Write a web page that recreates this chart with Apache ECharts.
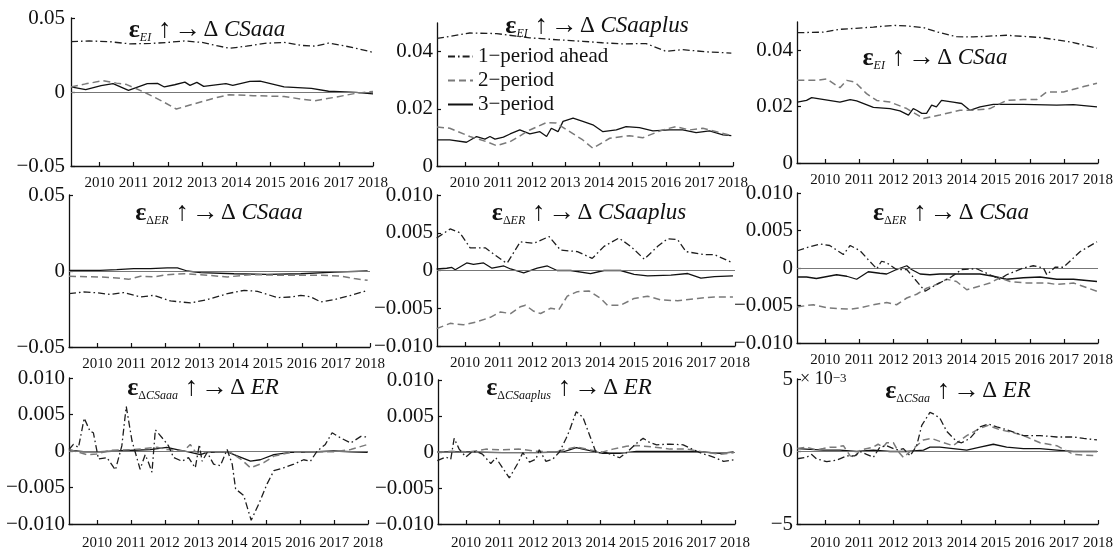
<!DOCTYPE html>
<html><head><meta charset="utf-8">
<script src="https://cdn.jsdelivr.net/npm/echarts@6/dist/echarts.min.js"></script>
<style>html,body{margin:0;padding:0;background:#fff}#c{width:1116px;height:551px}</style>
</head><body><div id="c"></div>
<script>
// ---------------- DATA ----------------
const seriesNames = ['1−period ahead', '2−period', '3−period'];
const yearTicks = [2010, 2011, 2012, 2013, 2014, 2015, 2016, 2017, 2018];
const xRange = [2009.17, 2018];

// Panel 1: eps_EI -> dCSaaa
const p1Ahead = [[2009.17,0.034],[2009.7,0.0345],[2010.3,0.034],[2010.9,0.0325],[2011.5,0.0328],[2012.0,0.0335],[2012.5,0.0345],[2013.0,0.0335],[2013.5,0.031],[2013.8,0.0295],[2014.3,0.031],[2014.9,0.033],[2015.4,0.0335],[2015.9,0.0315],[2016.3,0.031],[2016.7,0.033],[2017.2,0.031],[2017.7,0.0285],[2018.0,0.0268]];
const p1Two = [[2009.17,0.0034],[2009.6,0.0055],[2010.1,0.0076],[2010.5,0.006],[2010.8,0.005],[2011.3,0.0],[2011.8,-0.0058],[2012.25,-0.0115],[2012.8,-0.0078],[2013.3,-0.0045],[2013.8,-0.0018],[2014.5,-0.0025],[2015.4,-0.003],[2015.9,-0.0048],[2016.3,-0.0059],[2016.9,-0.0035],[2017.45,-0.0011],[2018,0.0004]];
const p1Three = [[2009.17,0.0034],[2009.6,0.0016],[2010.05,0.0043],[2010.4,0.0056],[2010.85,0.0011],[2011.4,0.0056],[2011.7,0.0058],[2011.9,0.0034],[2012.2,0.0049],[2012.5,0.0067],[2012.65,0.0045],[2012.85,0.0065],[2013.05,0.0038],[2013.7,0.0056],[2013.9,0.0045],[2014.4,0.0072],[2014.7,0.0074],[2015.4,0.0034],[2016.2,0.0025],[2016.7,0.0005],[2017.5,-0.0002],[2018,-0.0013]];

// Panel 2: eps_EI -> dCSaaplus
const p2Ahead = [[2009.17,0.0446],[2010.15,0.0465],[2010.95,0.0463],[2011.94,0.0448],[2012.8,0.0441],[2013.52,0.0436],[2014.1,0.0431],[2014.71,0.0427],[2015.41,0.0428],[2016.0,0.0401],[2016.5,0.0407],[2017.2,0.0399],[2017.95,0.0395]];
const p2Two = [[2009.17,0.0136],[2009.55,0.0132],[2010.15,0.0103],[2010.65,0.0085],[2010.95,0.0071],[2011.35,0.0085],[2011.94,0.0126],[2012.44,0.0152],[2012.73,0.015],[2013.13,0.012],[2013.52,0.0091],[2013.82,0.0062],[2014.32,0.0097],[2014.91,0.0106],[2015.31,0.0099],[2015.9,0.0126],[2016.3,0.0138],[2016.7,0.0126],[2017.1,0.0132],[2017.6,0.0117],[2017.95,0.0106]];
const p2Three = [[2009.17,0.0091],[2009.55,0.0091],[2010.05,0.0083],[2010.35,0.0103],[2010.6,0.0094],[2010.75,0.0103],[2010.9,0.0094],[2011.15,0.0101],[2011.35,0.0112],[2011.64,0.0126],[2011.94,0.0112],[2012.24,0.012],[2012.44,0.0103],[2012.58,0.0132],[2012.78,0.012],[2012.93,0.0156],[2013.23,0.0167],[2013.52,0.0156],[2013.82,0.0144],[2014.12,0.012],[2014.52,0.0126],[2014.81,0.0138],[2015.21,0.0134],[2015.61,0.0123],[2016.1,0.0126],[2016.5,0.0126],[2016.9,0.0117],[2017.3,0.0123],[2017.7,0.0109],[2017.95,0.0106]];

// Panel 3: eps_EI -> dCSaa
const p3Ahead = [[2009.18,0.0462],[2009.94,0.0464],[2010.43,0.0474],[2011.41,0.0482],[2012.0,0.0488],[2012.39,0.0486],[2012.88,0.048],[2013.36,0.0462],[2013.85,0.0448],[2014.34,0.0447],[2015.32,0.0453],[2016.3,0.0445],[2016.89,0.0435],[2017.28,0.0427],[2017.97,0.0407]];
const p3Two = [[2009.18,0.0293],[2009.74,0.0293],[2010.04,0.0298],[2010.43,0.0267],[2010.63,0.0293],[2010.87,0.0287],[2011.21,0.0246],[2011.51,0.0222],[2011.9,0.0216],[2012.39,0.0193],[2012.88,0.0158],[2013.36,0.017],[2013.95,0.0187],[2014.34,0.0187],[2014.83,0.0193],[2015.32,0.0222],[2015.81,0.0225],[2016.2,0.0225],[2016.5,0.0252],[2016.99,0.0252],[2017.58,0.0271],[2017.97,0.0283]];
const p3Three = [[2009.18,0.0216],[2009.45,0.0222],[2009.6,0.0232],[2010.43,0.0216],[2010.73,0.0225],[2010.92,0.022],[2011.41,0.0197],[2011.9,0.0193],[2012.19,0.0185],[2012.44,0.017],[2012.58,0.0193],[2012.68,0.0187],[2012.83,0.0176],[2012.97,0.0176],[2013.12,0.0205],[2013.26,0.0199],[2013.41,0.0222],[2013.75,0.0216],[2014.0,0.0211],[2014.24,0.0187],[2014.54,0.0199],[2014.93,0.0208],[2015.81,0.0208],[2016.79,0.0205],[2017.28,0.0207],[2017.97,0.0199]];

// Panel 4: eps_dER -> dCSaaa
const p4Ahead = [[2009.17,-0.0149],[2009.6,-0.0138],[2010.08,-0.0145],[2010.38,-0.0155],[2010.77,-0.0142],[2011.27,-0.0171],[2011.66,-0.016],[2012.15,-0.0197],[2012.74,-0.021],[2013.23,-0.0188],[2013.82,-0.0149],[2014.31,-0.0127],[2014.7,-0.0134],[2015.29,-0.0175],[2015.68,-0.0171],[2015.97,-0.016],[2016.27,-0.0171],[2016.56,-0.0204],[2016.95,-0.0188],[2017.45,-0.016],[2017.93,-0.0127]];
const p4Two = [[2009.17,-0.0035],[2010.08,-0.0039],[2010.57,-0.0046],[2010.92,-0.0055],[2011.27,-0.0035],[2011.66,-0.0039],[2012.05,-0.0024],[2012.54,-0.0018],[2013.03,-0.0024],[2013.82,-0.0039],[2014.5,-0.0024],[2015.48,-0.0028],[2016.46,-0.0028],[2017.15,-0.0033],[2017.54,-0.005],[2017.93,-0.0061]];
const p4Three = [[2009.17,0.0004],[2010.08,0.0004],[2010.57,0.0009],[2011.07,0.0015],[2011.56,0.0015],[2012.05,0.002],[2012.35,0.002],[2012.64,0.0],[2013.03,-0.0011],[2014.01,-0.0018],[2014.99,-0.0022],[2015.97,-0.0018],[2016.95,-0.0007],[2017.93,0.0]];

// Panel 5: eps_dER -> dCSaaplus
const p5Ahead = [[2009.16,0.0043],[2009.56,0.0055],[2009.85,0.005],[2010.15,0.003],[2010.6,0.003],[2011.15,0.0012],[2011.25,0.001],[2011.64,0.0038],[2012.04,0.0036],[2012.49,0.0045],[2012.83,0.0027],[2013.33,0.0025],[2013.77,0.0016],[2014.12,0.0032],[2014.56,0.0043],[2014.91,0.0032],[2015.31,0.0015],[2015.71,0.0032],[2016.0,0.0042],[2016.3,0.0041],[2016.55,0.0025],[2017.09,0.0021],[2017.39,0.0021],[2017.94,0.001]];
const p5Two = [[2009.16,-0.0077],[2009.56,-0.007],[2009.95,-0.0072],[2010.35,-0.0068],[2010.75,-0.0062],[2011.05,-0.0055],[2011.35,-0.0057],[2011.64,-0.0048],[2011.79,-0.0046],[2012.04,-0.0054],[2012.24,-0.0057],[2012.54,-0.005],[2012.78,-0.0052],[2013.03,-0.0034],[2013.33,-0.0028],[2013.67,-0.0027],[2014.02,-0.0037],[2014.22,-0.0046],[2014.61,-0.0046],[2015.01,-0.0037],[2015.41,-0.0034],[2015.8,-0.0039],[2016.3,-0.004],[2016.89,-0.0037],[2017.39,-0.0035],[2017.94,-0.0035]];
const p5Three = [[2009.16,0.0002],[2009.46,0.0003],[2009.61,0.0004],[2009.71,0.0001],[2010.05,0.001],[2010.25,0.0008],[2010.55,0.001],[2010.8,0.0003],[2011.15,0.0006],[2011.35,0.0002],[2011.74,-0.0003],[2012.14,0.0003],[2012.44,0.0006],[2012.73,0.0],[2013.13,0.0],[2013.72,-0.0004],[2014.12,0.0],[2014.61,0.0],[2015.01,-0.0005],[2015.41,-0.0007],[2016.1,-0.0006],[2016.6,-0.0004],[2016.99,-0.001],[2017.39,-0.0008],[2017.94,-0.0007]];

// Panel 6: eps_dER -> dCSaa
const p6Ahead = [[2009.18,0.0023],[2009.45,0.0027],[2009.84,0.0032],[2010.13,0.003],[2010.53,0.0018],[2010.73,0.003],[2011.02,0.0023],[2011.26,0.0011],[2011.51,-0.0001],[2011.65,0.0009],[2011.8,0.0007],[2012.09,-0.0002],[2012.39,-0.0002],[2012.63,-0.0015],[2012.93,-0.0031],[2013.26,-0.0022],[2013.66,-0.0013],[2014.0,-0.0002],[2014.44,-0.0001],[2014.83,-0.0009],[2015.12,-0.0015],[2015.32,-0.0009],[2015.81,0.0],[2016.1,0.0003],[2016.4,0.0],[2016.5,-0.0009],[2016.74,0.0001],[2016.99,0.0001],[2017.48,0.0022],[2017.97,0.0035]];
const p6Two = [[2009.18,-0.0052],[2009.45,-0.005],[2009.65,-0.0049],[2010.04,-0.0053],[2010.73,-0.0055],[2011.02,-0.0053],[2011.41,-0.0049],[2011.8,-0.0046],[2012.09,-0.0049],[2012.39,-0.004],[2012.68,-0.0035],[2012.97,-0.0027],[2013.26,-0.0022],[2013.56,-0.0015],[2013.85,-0.0018],[2014.15,-0.0029],[2014.54,-0.0024],[2014.83,-0.002],[2015.12,-0.0013],[2015.42,-0.0018],[2015.91,-0.002],[2016.5,-0.002],[2016.79,-0.0022],[2017.28,-0.002],[2017.97,-0.0031]];
const p6Three = [[2009.18,-0.0012],[2009.45,-0.0012],[2009.74,-0.0014],[2010.33,-0.0009],[2010.63,-0.0011],[2010.92,-0.0015],[2011.26,-0.0005],[2011.6,-0.0007],[2011.8,-0.0008],[2012.09,-0.0002],[2012.39,0.0003],[2012.53,-0.0002],[2012.78,-0.0008],[2013.07,-0.0009],[2013.36,-0.0008],[2013.95,-0.0008],[2014.54,-0.0008],[2014.93,-0.0011],[2015.32,-0.0015],[2015.81,-0.0013],[2016.3,-0.0012],[2016.79,-0.0015],[2017.28,-0.0015],[2017.97,-0.0018]];

// Panel 7: eps_dCSaaa -> dER
const p7Ahead = [[2009.17,0.0002],[2009.3,0.0009],[2009.45,0.0005],[2009.62,0.0045],[2009.79,0.0027],[2009.89,0.0025],[2010.04,-0.0011],[2010.29,-0.0009],[2010.54,-0.0026],[2010.73,0.0007],[2010.86,0.0061],[2011.03,0.0014],[2011.27,-0.0025],[2011.42,-0.0005],[2011.52,-0.0016],[2011.62,-0.0029],[2011.72,0.0029],[2011.96,0.0016],[2012.11,0.0007],[2012.26,-0.0009],[2012.51,-0.0014],[2012.7,-0.0009],[2012.9,-0.0023],[2013.02,0.0009],[2013.1,-0.0014],[2013.25,-0.0002],[2013.44,-0.0018],[2013.64,-0.002],[2013.84,0.0002],[2013.99,-0.0018],[2014.09,-0.0052],[2014.33,-0.0061],[2014.55,-0.0095],[2014.78,-0.0072],[2015.02,-0.0045],[2015.22,-0.0027],[2015.51,-0.0023],[2015.81,-0.0018],[2016.1,-0.0012],[2016.3,-0.0014],[2016.5,0.0],[2016.74,0.0009],[2016.94,0.0025],[2017.19,0.0018],[2017.49,0.0011],[2017.79,0.002],[2017.99,0.0019]];
const p7Two = [[2009.17,0.0002],[2009.4,-0.0001],[2009.69,-0.0005],[2009.99,-0.0004],[2010.39,0.0001],[2011.08,0.0002],[2011.77,0.0005],[2012.06,0.0002],[2012.56,0.0],[2012.75,0.0009],[2012.9,-0.0001],[2013.25,-0.0002],[2013.54,-0.0001],[2013.94,-0.0002],[2014.24,-0.0011],[2014.53,-0.0023],[2014.92,-0.0016],[2015.22,-0.0007],[2015.71,-0.0002],[2016.5,-0.0001],[2016.99,-0.0001],[2017.49,0.0002],[2017.99,0.0009]];
const p7Three = [[2009.17,0.0001],[2009.6,-0.0001],[2010.09,-0.0001],[2010.59,0.0],[2011.08,0.0001],[2011.57,0.0002],[2012.06,0.0005],[2012.36,0.0002],[2012.66,-0.0001],[2013.05,-0.0005],[2013.25,-0.0002],[2013.84,-0.0001],[2014.04,-0.0005],[2014.53,-0.0014],[2014.82,-0.0012],[2015.22,-0.0005],[2015.71,-0.0002],[2016.5,-0.0001],[2016.99,0.0],[2017.49,-0.0001],[2017.99,-0.0002]];

// Panel 8: eps_dCSaaplus -> dER
const p8Ahead = [[2009.15,-0.0012],[2009.4,-0.0007],[2009.55,-0.001],[2009.65,0.0019],[2009.8,0.0004],[2010.0,-0.0007],[2010.2,0.0001],[2010.39,-0.0001],[2010.49,-0.0003],[2010.74,-0.0016],[2010.89,-0.0008],[2011.29,-0.0036],[2011.54,-0.0016],[2011.69,-0.0001],[2011.89,-0.0014],[2012.08,-0.001],[2012.18,0.0003],[2012.38,-0.0013],[2012.58,-0.001],[2012.78,0.0],[2012.98,0.0019],[2013.08,0.003],[2013.28,0.0056],[2013.48,0.0048],[2013.68,0.0023],[2013.87,-0.0001],[2014.17,-0.0001],[2014.37,-0.0004],[2014.57,-0.0008],[2014.77,-0.0001],[2015.07,0.0012],[2015.27,0.0019],[2015.47,0.0013],[2015.67,0.001],[2016.06,0.0011],[2016.46,0.001],[2016.96,-0.0001],[2017.36,-0.0007],[2017.66,-0.0013],[2017.96,-0.0011]];
const p8Two = [[2009.15,0.0],[2009.6,0.0001],[2010.1,0.0],[2010.59,0.0004],[2011.09,0.0003],[2011.59,0.0004],[2012.08,0.0001],[2012.68,0.0],[2012.98,0.0004],[2013.28,0.0007],[2013.68,0.0003],[2014.07,0.0],[2014.37,0.0004],[2014.77,0.0008],[2015.07,0.0009],[2015.57,0.0007],[2016.06,0.0004],[2016.56,0.0004],[2017.06,0.0],[2017.56,-0.0003],[2017.96,-0.0001]];
const p8Three = [[2009.15,0.0],[2010.1,0.0],[2011.09,-0.0001],[2012.08,-0.0001],[2012.88,0.0],[2013.08,0.0003],[2013.28,0.0006],[2013.58,0.0003],[2014.07,-0.0002],[2014.57,-0.0002],[2015.07,0.0001],[2015.57,0.0001],[2016.06,0.0001],[2016.56,0.0001],[2017.06,0.0],[2017.56,-0.0002],[2017.96,0.0]];

// Panel 9: eps_dCSaa -> dER
const p9Ahead = [[2009.18,-0.0005],[2009.45,-0.0004],[2009.6,-0.0002],[2009.74,-0.0005],[2010.04,-0.0007],[2010.33,-0.0006],[2010.63,-0.0003],[2010.87,-0.0003],[2011.02,0.0],[2011.21,-0.0002],[2011.41,-0.0004],[2011.6,0.0003],[2011.8,0.0004],[2012.0,0.0002],[2012.14,0.0001],[2012.29,0.0002],[2012.49,-0.0003],[2012.68,0.0004],[2012.83,0.0018],[2013.07,0.0027],[2013.17,0.0026],[2013.36,0.0023],[2013.56,0.0014],[2013.85,0.0007],[2014.0,0.0006],[2014.24,0.0009],[2014.54,0.0017],[2014.78,0.0019],[2015.03,0.0017],[2015.32,0.0015],[2015.81,0.0011],[2016.3,0.0011],[2016.79,0.001],[2017.28,0.001],[2017.58,0.0009],[2017.97,0.0008]];
const p9Two = [[2009.18,0.0002],[2009.45,0.0003],[2009.74,0.0001],[2009.94,0.0002],[2010.13,0.0003],[2010.33,0.0003],[2010.53,0.0004],[2010.73,-0.0003],[2010.87,-0.0004],[2011.02,0.0001],[2011.41,0.0003],[2011.55,0.0005],[2011.7,0.0003],[2011.8,0.0006],[2012.0,0.0006],[2012.14,0.0],[2012.29,-0.0004],[2012.49,0.0],[2012.68,0.0004],[2012.88,0.0008],[2013.12,0.0009],[2013.36,0.0007],[2013.75,0.0004],[2014.15,0.0011],[2014.54,0.0016],[2014.78,0.0018],[2015.12,0.0015],[2015.52,0.0013],[2015.81,0.0011],[2016.3,0.0006],[2016.79,0.0004],[2017.28,-0.0002],[2017.97,-0.0003]];
const p9Three = [[2009.18,0.0002],[2009.94,0.0001],[2010.43,0.0001],[2010.92,0.0],[2011.41,0.0001],[2011.9,0.0],[2012.39,0.0],[2012.88,0.0001],[2013.07,0.0003],[2013.36,0.0003],[2013.75,0.0002],[2014.15,0.0001],[2014.54,0.0003],[2014.93,0.0005],[2015.32,0.0003],[2015.81,0.0002],[2016.3,0.0002],[2016.79,0.0001],[2017.28,0.0],[2017.97,0.0]];

// y-axis ranges, ticks and tick labels
const yRanges = [[-0.05,0.05],[0,0.05],[0,0.05],[-0.05,0.05],[-0.01,0.01],[-0.01,0.01],[-0.01,0.01],[-0.01,0.01],[-0.005,0.005]];
const yTicks = [[-0.05,0,0.05],[0,0.02,0.04],[0,0.02,0.04],[-0.05,0,0.05],[-0.01,-0.005,0,0.005,0.01],[-0.01,-0.005,0,0.005,0.01],[-0.01,-0.005,0,0.005,0.01],[-0.01,-0.005,0,0.005,0.01],[-0.005,0,0.005]];
const yTickLabels = [['−0.05','0','0.05'],['0','0.02','0.04'],['0','0.02','0.04'],['−0.05','0','0.05'],['−0.010','−0.005','0','0.005','0.010'],['−0.010','−0.005','0','0.005','0.010'],['−0.010','−0.005','0','0.005','0.010'],['−0.010','−0.005','0','0.005','0.010'],['−5','0','5']];

// panel titles: shock subscript and response variable
const titleShock = ['EI','EI','EI','ΔER','ΔER','ΔER','ΔCSaaa','ΔCSaaplus','ΔCSaa'];
const titleResponse = ['CSaaa','CSaaplus','CSaa','CSaaa','CSaaplus','CSaa','ER','ER','ER'];

const panelData = [
  [p1Ahead,p1Two,p1Three],[p2Ahead,p2Two,p2Three],[p3Ahead,p3Two,p3Three],
  [p4Ahead,p4Two,p4Three],[p5Ahead,p5Two,p5Three],[p6Ahead,p6Two,p6Three],
  [p7Ahead,p7Two,p7Three],[p8Ahead,p8Two,p8Three],[p9Ahead,p9Two,p9Three]
];

// ---------------- LAYOUT / STYLE ----------------
const FONT = '"Liberation Serif", "DejaVu Serif", serif';
const grids = [
  {left:71, top:18, width:302, height:148},
  {left:437, top:23, width:296, height:143},
  {left:797, top:22, width:301, height:141},
  {left:69, top:195, width:301, height:152},
  {left:437, top:195, width:298, height:151},
  {left:797, top:193, width:301, height:150},
  {left:69, top:378, width:299, height:151},
  {left:438, top:380, width:297, height:149},
  {left:797, top:379, width:301, height:152}
];
const xLabelMargin = [10,10,10,10,10,10,12,12,12];
const titlePos = [[207,30],[597,26],[935,58],[219,213],[589,213],[951,213],[203,388],[569,388],[958,391]];
const zeroLine = [true,false,false,true,true,true,true,true,true];
const lineStyles = [
  {color:'#1e1e1e', width:1.3, type:[7,3,1.6,3]},
  {color:'#7a7a7a', width:1.5, type:[7,4]},
  {color:'#111111', width:1.3, type:'solid'}
];

const xAxes = [], yAxes = [], series = [], graphics = [];
grids.forEach((g, i) => {
  xAxes.push({
    type:'value', gridIndex:i, min:xRange[0], max:xRange[1],
    axisLine:{show:true, onZero:false, lineStyle:{color:'#111', width:1.3}},
    axisTick:{show:true, inside:true, length:4, customValues:yearTicks, lineStyle:{color:'#111', width:1.2}},
    axisLabel:{customValues:yearTicks, formatter:v => String(Math.round(v)), fontFamily:FONT, fontSize:15, color:'#111', margin:xLabelMargin[i]},
    splitLine:{show:false}
  });
  const ticks = yTicks[i], labels = yTickLabels[i];
  yAxes.push({
    type:'value', gridIndex:i, min:yRanges[i][0], max:yRanges[i][1],
    axisLine:{show:true, onZero:false, lineStyle:{color:'#111', width:1.3}},
    axisTick:{show:true, inside:true, length:4, customValues:ticks, lineStyle:{color:'#111', width:1.2}},
    axisLabel:{customValues:ticks, formatter:v => { const k = ticks.findIndex(t => Math.abs(t - v) < 1e-9); return k >= 0 ? labels[k] : ''; },
      fontFamily:FONT, fontSize:21, color:'#111', margin: i === 0 ? 6 : 4},
    splitLine:{show:false},
    name: i === 8 ? '× 10{sup|−3}' : '',
    nameLocation:'end', nameGap:-7,
    nameTextStyle:{fontFamily:FONT, fontSize:18, lineHeight:14, color:'#111', align:'left', verticalAlign:'bottom', padding:[0,0,0,3],
      rich:{sup:{fontFamily:FONT, fontSize:13, lineHeight:14, color:'#111', verticalAlign:'top'}}}
  });
  panelData[i].forEach((d, k) => {
    const s = {
      type:'line', name:seriesNames[k], xAxisIndex:i, yAxisIndex:i, data:d,
      showSymbol:false, symbol:'none', smooth:false, lineStyle:lineStyles[k], z: 5 - k
    };
    if (k === 0 && zeroLine[i]) {
      s.markLine = {silent:true, symbol:'none', label:{show:false}, animation:false,
        lineStyle:{color:'#777', width:1, type:'solid'}, data:[{yAxis:0}]};
    }
    series.push(s);
  });
  const shock = titleShock[i];
  const shockText = shock.startsWith('Δ') ? '{sd|Δ}{s|' + shock.slice(1) + '}' : '{s|' + shock + '}';
  graphics.push({
    type:'text', x:titlePos[i][0], y:titlePos[i][1], silent:true,
    style:{
      text:'{e|ε}' + shockText + '{a| ↑}{sp| }{a|→}{sp| }{d|Δ}{t| ' + titleResponse[i] + '}',
      align:'center', verticalAlign:'middle', fill:'#111', fontFamily:FONT,
      rich:{
        e:{fontFamily:FONT, fontSize:26, fontWeight:'bold', fill:'#111', lineHeight:28, verticalAlign:'middle'},
        s:{fontFamily:FONT, fontSize:12, fontStyle:'italic', fill:'#111', lineHeight:17, verticalAlign:'bottom'},
        sd:{fontFamily:FONT, fontSize:12, fill:'#111', lineHeight:17, verticalAlign:'bottom'},
        sp:{fontFamily:FONT, fontSize:10, fill:'#111', lineHeight:28, verticalAlign:'middle'},
        a:{fontFamily:FONT, fontSize:27, fill:'#111', lineHeight:28, verticalAlign:'middle'},
        d:{fontFamily:FONT, fontSize:23, fill:'#111', lineHeight:28, verticalAlign:'middle'},
        t:{fontFamily:FONT, fontSize:23, fontStyle:'italic', fill:'#111', lineHeight:28, verticalAlign:'middle'}
      }
    }
  });
});

const chart = echarts.init(document.getElementById('c'), null, {renderer:'canvas'});
chart.setOption({
  backgroundColor:'#ffffff',
  animation:false,
  grid:grids.map(g => Object.assign({containLabel:false}, g)),
  xAxis:xAxes, yAxis:yAxes, series:series,
  legend:{
    data:seriesNames, left:442, top:40, orient:'vertical', itemWidth:25, itemHeight:12, itemGap:1,
    selectedMode:false, itemStyle:{opacity:0},
    textStyle:{fontFamily:FONT, fontSize:21, color:'#111', lineHeight:23}
  },
  graphic:graphics
});
</script></body></html>
